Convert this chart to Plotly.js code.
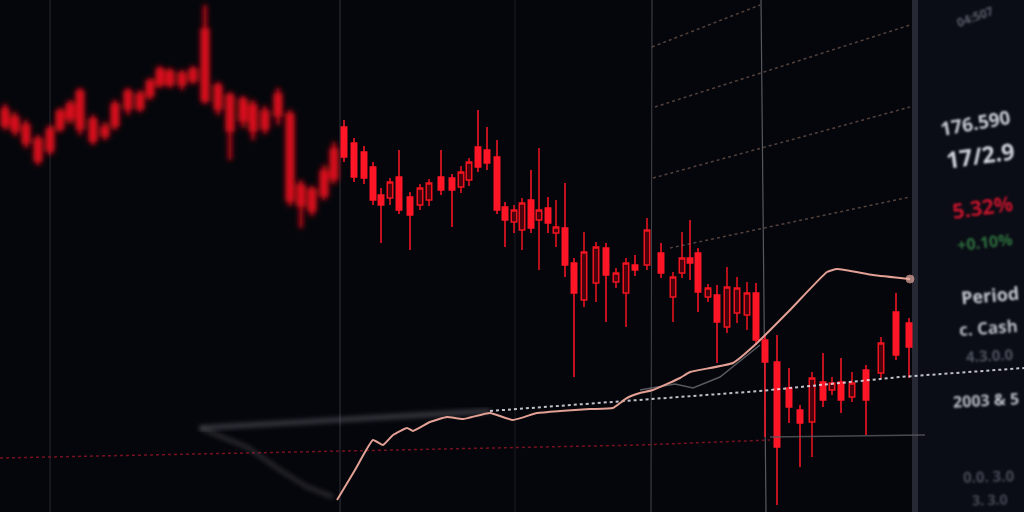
<!DOCTYPE html>
<html>
<head>
<meta charset="utf-8">
<script src="https://cdn.plot.ly/plotly-3.0.1.min.js"></script>
<style>
  html, body { margin: 0; padding: 0; background: #05060b; }
  #chart { width: 1024px; height: 512px; }
</style>
</head>
<body>
<div id="chart"></div>
<script>
// ---------- DATA ----------
// Older, out-of-focus session (left)
const pastTime  = [5,15,26,38,50,60,70,80,93,105,115,128,140,150,160,170,182,193,205,218,230,243,253,265,278,290,301,312,324,334];
const pastOpen  = [169.0,168.2,167.4,166.0,165.0,167.2,168.2,170.8,168.0,167.2,167.5,169.2,170.5,170.5,171.6,172.8,172.6,172.0,177.0,171.4,170.4,170.0,169.4,168.8,170.5,168.5,161.4,161.0,162.8,165.0];
const pastHigh  = [169.6,168.8,168.0,166.5,167.5,169.2,170.0,171.2,168.5,167.8,170.0,171.2,171.0,172.2,173.4,173.2,173.0,173.4,179.5,171.8,170.8,170.4,170.0,169.4,171.2,169.0,162.0,161.4,163.5,165.8];
const pastLow   = [167.0,166.4,165.2,163.5,164.5,166.8,167.6,166.5,165.5,166.0,167.0,168.5,168.8,170.0,171.2,171.2,171.0,171.6,169.6,168.5,164.0,167.2,166.0,166.6,167.5,159.4,157.2,158.4,160.0,161.6];
const pastClose = [167.5,167.0,165.8,164.0,167.0,168.8,169.5,167.2,166.0,166.5,169.5,170.8,169.2,171.8,173.0,171.6,171.6,173.0,170.0,169.2,167.0,168.0,167.0,167.2,168.5,160.0,159.5,159.0,160.5,162.2];

// Current session (in focus)
const time  = [344,354,364,373,381,390,399,410,420,429,441,452,461,469,478,487,497,505,514,522,531,539,548,556,565,574,584,596,606,616,626,635,647,661,673,682,690,698,708,717,727,737,747,756,765,777,789,800,812,823,832,841,852,866,881,896,909];
const open  = [167.3,165.7,164.8,163.3,160.5,160.2,162.3,160.3,159.5,160.0,162.3,162.2,161.3,162.0,165.3,165.0,164.3,159.3,157.8,157.0,160.0,158.0,159.2,156.7,157.2,153.7,150.0,151.7,155.2,151.8,150.7,153.5,153.5,154.7,150.3,152.7,154.2,154.7,150.3,150.5,147.3,148.7,148.5,150.7,146.0,143.8,141.2,139.0,137.8,141.8,141.0,141.8,140.3,143.0,142.7,148.8,147.7];
const high  = [168.0,166.2,165.4,163.8,161.2,162.2,165.0,160.8,161.6,162.1,165.0,162.6,163.4,164.2,169.0,167.3,166.0,159.8,159.5,160.2,163.0,165.2,160.3,160.0,161.7,154.2,156.8,155.8,155.7,153.2,154.2,154.5,158.2,155.7,152.8,156.8,158.0,155.2,151.6,151.5,153.3,152.3,151.8,151.7,146.5,146.5,143.2,139.5,142.8,144.7,142.3,144.2,142.8,143.5,146.3,150.7,148.2];
const low   = [163.8,161.8,161.6,159.5,155.7,159.5,158.6,155.0,159.0,159.4,160.5,157.3,160.7,161.4,162.8,163.0,158.6,155.3,156.7,155.0,156.7,153.0,156.7,155.3,152.3,142.3,149.3,149.8,147.8,151.2,147.3,152.4,153.0,152.2,147.8,152.2,152.0,148.8,149.8,143.7,146.7,147.7,147.0,145.5,136.3,129.5,137.7,133.3,134.3,139.3,140.5,138.7,139.8,136.5,142.2,144.0,142.2];
const close = [164.3,162.3,162.2,160.0,159.5,161.8,159.0,158.5,161.2,161.7,161.0,161.0,162.8,163.8,163.3,163.7,159.0,158.0,159.0,159.7,157.2,159.0,157.7,157.3,153.5,150.7,154.8,155.3,152.5,152.7,153.7,153.0,157.0,152.7,152.3,154.2,153.7,150.8,151.2,147.8,151.3,151.2,150.7,146.0,143.8,135.3,139.3,137.7,142.2,140.0,141.7,140.0,141.7,140.0,145.7,144.5,145.3];

// Moving-average style line (salmon)
const maTime  = [337,355,373,383,393,407,413,430,447,463,490,513,537,560,590,613,627,640,653,680,690,733,757,790,827,837,873,910];
const maValue = [130.0,133.0,136.0,135.5,136.5,137.2,136.9,137.8,138.3,138.1,138.7,138.0,138.7,138.9,139.1,139.2,140.2,140.7,141.0,142.2,142.8,143.7,145.7,149.0,152.8,153.1,152.5,152.1];

// Faded grey lines
const greyLowTime  = [200,247,280,307,333];
const greyLowValue = [137.2,135.3,133.0,131.3,130.3];
const greyHighTime  = [640,675,693,720,745,760];
const greyHighValue = [141.0,141.6,141.2,142.3,144.3,145.5];

// Support line (grey blurred part, then dotted white)
const supportSoftTime  = [200,490];
const supportSoftValue = [137.2,138.9];
const supportTime  = [490,640,760,900,1024];
const supportValue = [138.9,140.0,140.9,142.3,143.2];

// Lower dark-red dashed level and grey continuation
const redLevelTime  = [0,640,770];
const redLevelValue = [134.2,135.5,136.0];
const greyLevelTime  = [770,925];
const greyLevelValue = [136.3,136.5];

// Perspective dotted gridlines (top right)
const gridTime  = [652,760,null,655,910,null,653,910,null,670,910];
const gridValue = [175.3,179.5,null,169.3,177.5,null,162.2,169.3,null,155.2,160.3];

// Side panel texts
const panelTime   = '04:507';
const panelPrice  = '176.590';
const panelRatio  = '17/2.9';
const panelChange = '5.32%';
const panelChange2 = '+0.10%';
const panelLabels = ['Period', 'c. Cash', '4.3.0.0', '2003 & 5', '0.0. 3.0', '3. 3.0'];

// ---------- CHART ----------
const RED = '#ff1626';
const traces = [
  {
    type: 'scatter', mode: 'lines', x: gridTime, y: gridValue, connectgaps: false,
    line: { color: 'rgba(150,115,100,0.55)', width: 1.5, dash: 'dot' }, hoverinfo: 'skip'
  },
  {
    type: 'scatter', mode: 'lines', x: redLevelTime, y: redLevelValue,
    line: { color: 'rgba(140,20,35,0.85)', width: 1.5, dash: 'dot' }, hoverinfo: 'skip'
  },
  {
    type: 'scatter', mode: 'lines', x: greyLevelTime, y: greyLevelValue,
    line: { color: 'rgba(90,90,98,0.8)', width: 1.5 }, hoverinfo: 'skip'
  },
  {
    type: 'scatter', mode: 'lines', x: supportSoftTime, y: supportSoftValue,
    line: { color: 'rgba(120,120,132,0.55)', width: 4 }, hoverinfo: 'skip'
  },
  {
    type: 'scatter', mode: 'lines', x: supportTime, y: supportValue,
    line: { color: 'rgba(225,225,235,0.85)', width: 2, dash: 'dot' }, hoverinfo: 'skip'
  },
  {
    type: 'scatter', mode: 'lines', x: greyLowTime, y: greyLowValue,
    line: { color: 'rgba(95,90,95,0.7)', width: 2.5 }, hoverinfo: 'skip'
  },
  {
    type: 'scatter', mode: 'lines', x: greyHighTime, y: greyHighValue,
    line: { color: 'rgba(110,110,118,0.8)', width: 1.5 }, hoverinfo: 'skip'
  },
  {
    type: 'candlestick', x: pastTime, open: pastOpen, high: pastHigh, low: pastLow, close: pastClose,
    increasing: { line: { color: '#e0101c', width: 3.5 }, fillcolor: '#e0101c' },
    decreasing: { line: { color: '#e0101c', width: 3.5 }, fillcolor: '#e0101c' },
    whiskerwidth: 0, hoverinfo: 'skip'
  },
  {
    type: 'candlestick', x: time, open: open, high: high, low: low, close: close,
    increasing: { line: { color: '#f0141f', width: 1.5 }, fillcolor: 'rgba(120,0,14,0.6)' },
    decreasing: { line: { color: RED, width: 1.5 }, fillcolor: RED },
    whiskerwidth: 0, hoverinfo: 'skip'
  },
  {
    type: 'scatter', mode: 'lines+markers', x: maTime, y: maValue,
    line: { color: '#e3a195', width: 2, shape: 'spline', smoothing: 0.4 },
    marker: { color: '#e8b0a6', size: maTime.map((_, i) => i === maTime.length - 1 ? 8 : 0) },
    hoverinfo: 'skip'
  }
];

function ann(text, px, py, size, color, angle, bold) {
  return {
    text: bold ? '<b>' + text + '</b>' : text,
    xref: 'paper', yref: 'paper', x: px / 1024, y: 1 - py / 512,
    xanchor: 'center', yanchor: 'middle', showarrow: false, textangle: angle,
    font: { family: 'Open Sans, DejaVu Sans, sans-serif', size: size, color: color }
  };
}

const layout = {
  width: 1024, height: 512,
  margin: { l: 0, r: 0, t: 0, b: 0, pad: 0 },
  paper_bgcolor: '#05060b', plot_bgcolor: '#05060b',
  showlegend: false,
  boxgap: 0.02,
  xaxis: { range: [0, 1024], visible: false, showgrid: false, zeroline: false, rangeslider: { visible: false }, fixedrange: true },
  yaxis: { range: [128.8, 180], visible: false, showgrid: false, zeroline: false, fixedrange: true },
  shapes: [
    { type: 'rect', xref: 'paper', yref: 'paper', x0: 918 / 1024, x1: 1, y0: 0, y1: 1, fillcolor: '#0b0d16', line: { width: 0 }, layer: 'below' },
    { type: 'line', xref: 'paper', yref: 'paper', x0: 915 / 1024, x1: 915 / 1024, y0: 0, y1: 1, line: { color: '#262934', width: 6 }, layer: 'below' },
    { type: 'line', xref: 'paper', yref: 'paper', x0: 50 / 1024, x1: 50 / 1024, y0: 0, y1: 1, line: { color: 'rgba(40,40,50,0.5)', width: 2 }, layer: 'below' },
    { type: 'line', xref: 'paper', yref: 'paper', x0: 340 / 1024, x1: 340 / 1024, y0: 0, y1: 1, line: { color: 'rgba(45,45,55,0.55)', width: 2 }, layer: 'below' },
    { type: 'line', xref: 'paper', yref: 'paper', x0: 515 / 1024, x1: 515 / 1024, y0: 0, y1: 1, line: { color: 'rgba(40,40,50,0.45)', width: 1.5 }, layer: 'below' },
    { type: 'line', xref: 'paper', yref: 'paper', x0: 651 / 1024, x1: 652 / 1024, y0: 0, y1: 1, line: { color: 'rgba(110,112,122,0.6)', width: 1 }, layer: 'below' },
    { type: 'line', xref: 'paper', yref: 'paper', x0: 761 / 1024, x1: 766 / 1024, y0: 1, y1: 0, line: { color: 'rgba(130,132,142,0.65)', width: 1.2 }, layer: 'below' }
  ],
  annotations: [
    ann(panelTime, 975, 16, 12, '#5a5e6a', -20, true),
    ann(panelPrice, 975, 123, 19, '#c9ccd4', -10, true),
    ann(panelRatio, 980, 155, 23, '#d0d3da', -8, true),
    ann(panelChange, 982, 207, 21, '#c3132a', -8, true),
    ann(panelChange2, 985, 242, 16, '#2d6e3c', -6, true),
    ann(panelLabels[0], 990, 295, 18, '#c4c7ce', -5, true),
    ann(panelLabels[1], 988, 327, 17, '#b4b8c0', -4, true),
    ann(panelLabels[2], 990, 355, 15, '#4d525e', -3, true),
    ann(panelLabels[3], 986, 400, 16, '#b8bcc4', -3, true),
    ann(panelLabels[4], 988, 476, 15, '#454a55', -2, true),
    ann(panelLabels[5], 990, 499, 14, '#454a55', -2, true)
  ]
};

Plotly.newPlot('chart', traces, layout, { staticPlot: true, displayModeBar: false }).then(function (gd) {
  const ns = 'http://www.w3.org/2000/svg';
  const svg = gd.querySelector('svg.main-svg');
  let defs = svg.querySelector('defs');
  if (!defs) { defs = document.createElementNS(ns, 'defs'); svg.insertBefore(defs, svg.firstChild); }
  function addBlur(id, sd) {
    const f = document.createElementNS(ns, 'filter');
    f.setAttribute('id', id);
    f.setAttribute('x', '-20%'); f.setAttribute('y', '-20%');
    f.setAttribute('width', '140%'); f.setAttribute('height', '140%');
    const b = document.createElementNS(ns, 'feGaussianBlur');
    b.setAttribute('stdDeviation', sd);
    f.appendChild(b); defs.appendChild(f);
  }
  addBlur('softblur', '2.6');
  addBlur('textblur', '1.2');
  const boxes = gd.querySelectorAll('.boxlayer .trace');
  if (boxes.length) boxes[0].setAttribute('filter', 'url(#softblur)');
  const scat = gd.querySelectorAll('.scatterlayer .trace');
  if (scat.length > 5) { scat[3].setAttribute('filter', 'url(#softblur)'); scat[5].setAttribute('filter', 'url(#softblur)'); }
  gd.querySelectorAll('.annotation').forEach(function (a) { a.setAttribute('filter', 'url(#textblur)'); });
});
</script>
</body>
</html>
